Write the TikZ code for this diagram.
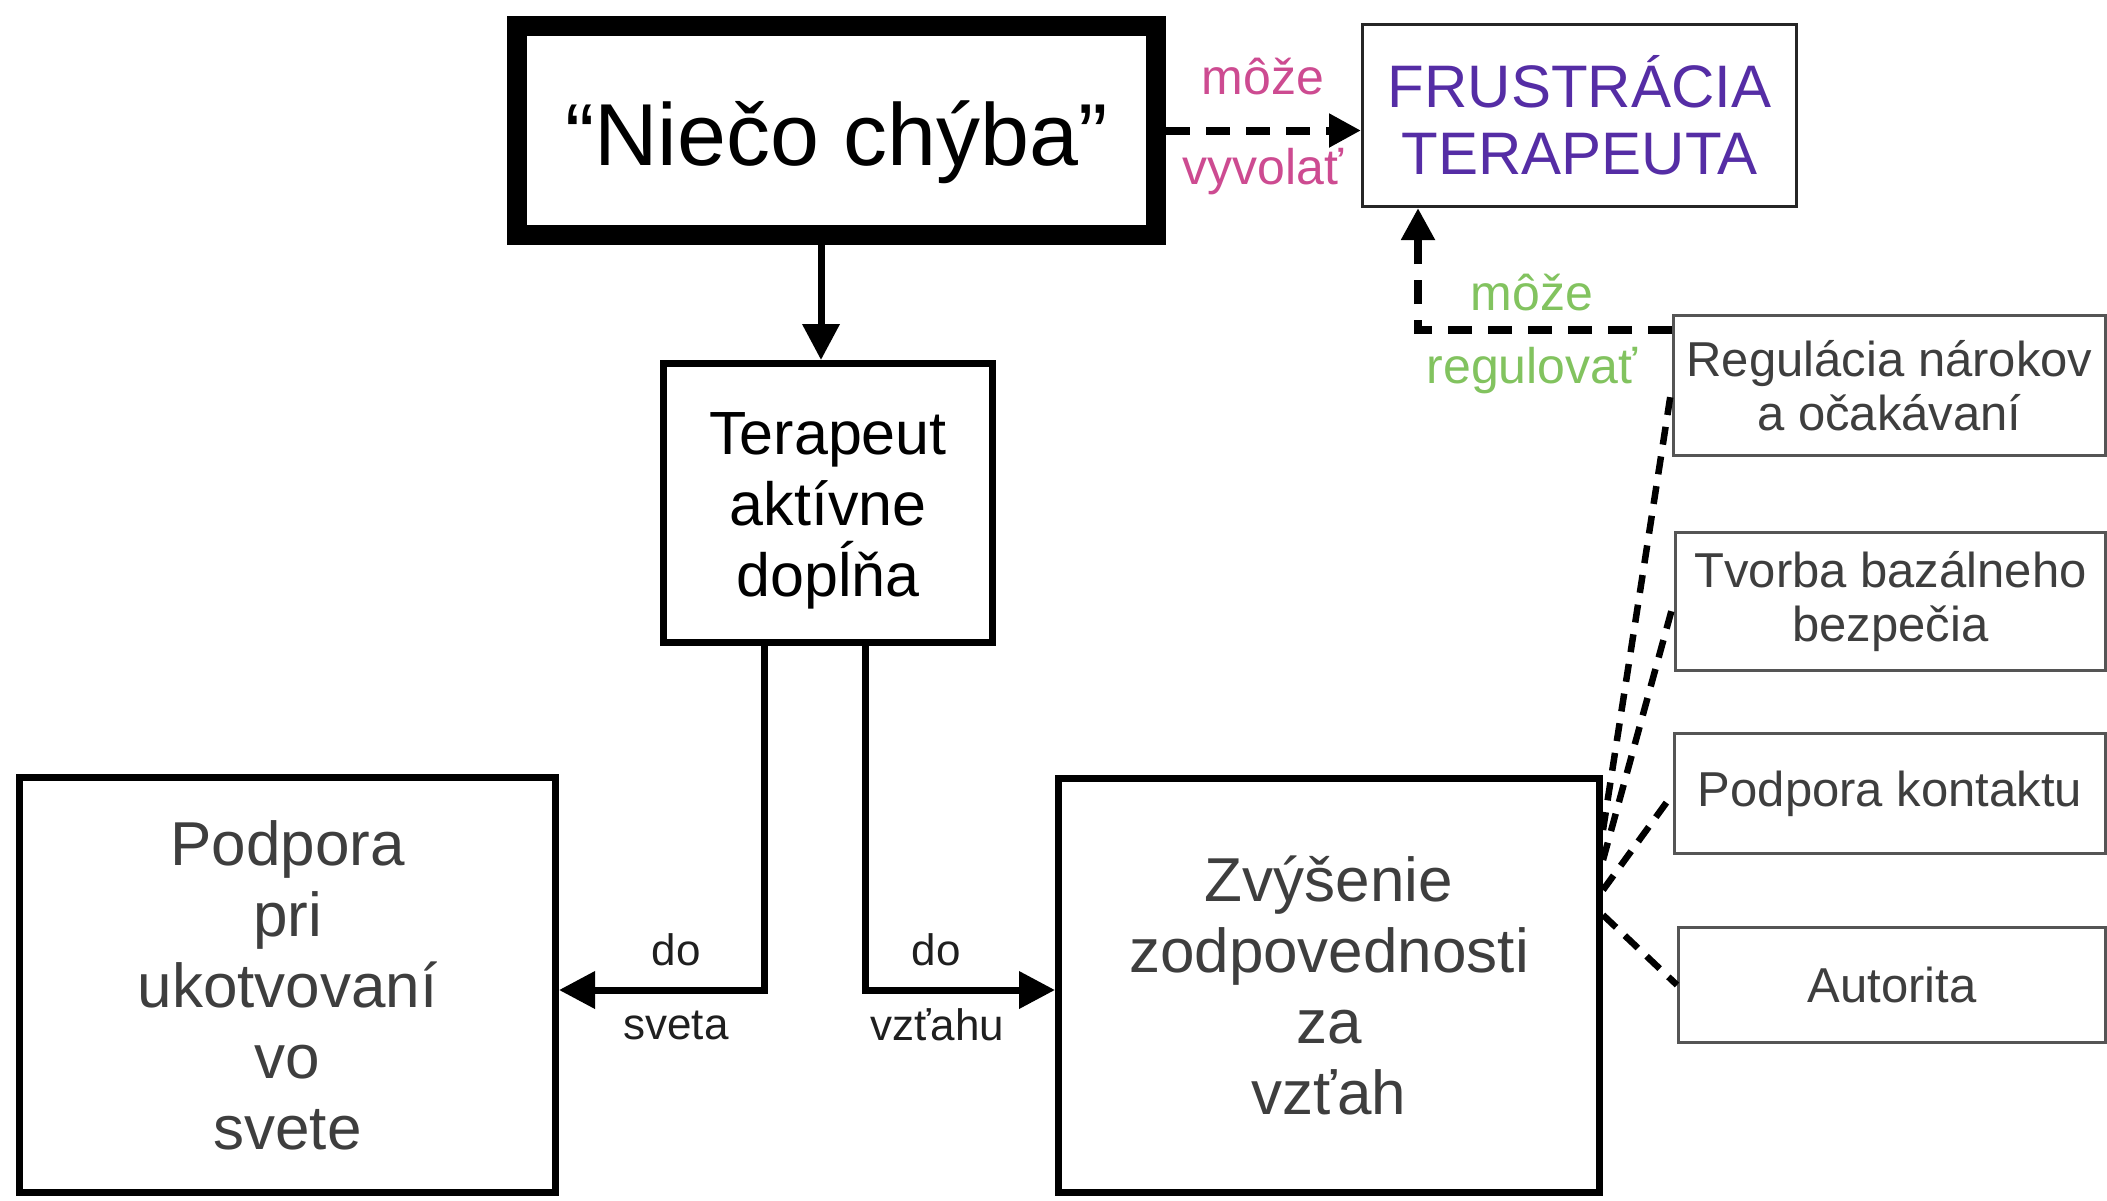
\documentclass[tikz,border=0pt]{standalone}
\usepackage{fontspec}
\setmainfont{Liberation Sans}
\usetikzlibrary{arrows.meta}
\definecolor{pinkc}{RGB}{205,75,145}
\definecolor{purpc}{RGB}{85,45,165}
\definecolor{greenc}{RGB}{130,195,95}
\definecolor{txtgray}{RGB}{62,62,62}
\definecolor{boxgray}{RGB}{85,85,85}
\begin{document}
\begin{tikzpicture}[x=1pt,y=-1pt,
  every node/.style={inner sep=0pt},
  mainbox/.style={draw=black, line width=7pt, fill=white, align=center},
  sidebox/.style={draw=boxgray, line width=3pt, fill=white, align=center, text=txtgray, font=\fontsize{49}{54}\selectfont},
  solidarrow/.style={line width=7pt, -{Triangle[length=36pt,width=36pt]}},
  dasharrow/.style={line width=8pt, dash pattern=on 24pt off 16pt, -{Triangle[length=32pt,width=32pt]}},
  fanline/.style={line width=6.5pt, dash pattern=on 18pt off 12pt},
  lbl/.style={font=\fontsize{44}{50}\selectfont, text=black!88},
  pinklbl/.style={font=\fontsize{50}{56}\selectfont, text=pinkc},
  greenlbl/.style={font=\fontsize{50}{56}\selectfont, text=greenc},
]
\fill[white] (0,0) rectangle (2107,1200);
\useasboundingbox (0,0) rectangle (2107,1200);

% main boxes
\node[mainbox, line width=20pt, minimum width=639pt, minimum height=209pt,
      font=\fontsize{88}{100}\selectfont] (niec) at (836.5,130.5) {\rule{0pt}{88pt}“Niečo chýba”};
\node[draw=black!85, line width=3pt, fill=white, minimum width=434pt, minimum height=182pt,
      align=center, text=purpc, font=\fontsize{60}{67}\selectfont] (frus) at (1579.5,115.5) {FRUSTRÁCIA\\TERAPEUTA};
\node[mainbox, minimum width=329pt, minimum height=279pt,
      font=\fontsize{61}{71}\selectfont] (tera) at (828,503) {\rule{0pt}{58pt}Terapeut\\aktívne\\dopĺňa};
\node[mainbox, minimum width=536pt, minimum height=415pt, text=txtgray,
      font=\fontsize{62}{71}\selectfont] (podp) at (287.5,985) {Podpora\\pri\\ukotvovaní\\vo\\svete};
\node[mainbox, minimum width=541pt, minimum height=414pt, text=txtgray,
      font=\fontsize{62}{71}\selectfont] (zvys) at (1329,985.5) {Zvýšenie\\zodpovednosti\\za\\vzťah};

% side boxes
\node[sidebox, minimum width=432pt, minimum height=140pt] (regu) at (1889.5,385.5) {Regulácia nárokov\\a očakávaní};
\node[sidebox, minimum width=430pt, minimum height=138pt] (tvor) at (1890.5,601.5) {Tvorba bazálneho\\bezpečia};
\node[sidebox, minimum width=431pt, minimum height=120pt] (kont) at (1890,793.5) {Podpora kontaktu};
\node[sidebox, minimum width=427pt, minimum height=115pt] (auto) at (1892,985) {Autorita};

% helper coordinates
\coordinate (dx) at (821,0);
\coordinate (lx) at (764,0);
\coordinate (rx) at (865,0);
\coordinate (hy) at (0,990);
\coordinate (ry) at (0,330);
\coordinate (rvx) at (1418,0);
\coordinate (fa) at (0,830);
\coordinate (fb) at (0,860);
\coordinate (fc) at (0,890);
\coordinate (fd) at (0,915);

% connectors
\draw[dasharrow] (niec.east) -- (niec.east -| frus.west);
\draw[solidarrow] (niec.south -| dx) -- (tera.north -| dx);
\draw[solidarrow] (tera.south -| lx) |- (podp.east |- hy);
\draw[solidarrow] (tera.south -| rx) |- (zvys.west |- hy);
\draw[dasharrow] (regu.west |- ry) -| (frus.south -| rvx);

\draw[fanline] (zvys.east |- fa) -- (regu.west);
\draw[fanline] (zvys.east |- fb) -- (tvor.west);
\draw[fanline] (zvys.east |- fc) -- (kont.west);
\draw[fanline] (zvys.east |- fd) -- (auto.west);

% labels
\node[pinklbl] (m1) at (1263,77) {môže};
\node[pinklbl] (v1) at (1263,172) {vyvolať};
\node[greenlbl] (m2) at (1532,293) {môže};
\node[greenlbl] (r2) at (1532,371) {regulovať};
\node[lbl] (do1) at (676,950) {do};
\node[lbl] (sv) at (676,1025) {sveta};
\node[lbl] (do2) at (936,950) {do};
\node[lbl] (vz) at (937,1025) {vzťahu};
\end{tikzpicture}
\end{document}
